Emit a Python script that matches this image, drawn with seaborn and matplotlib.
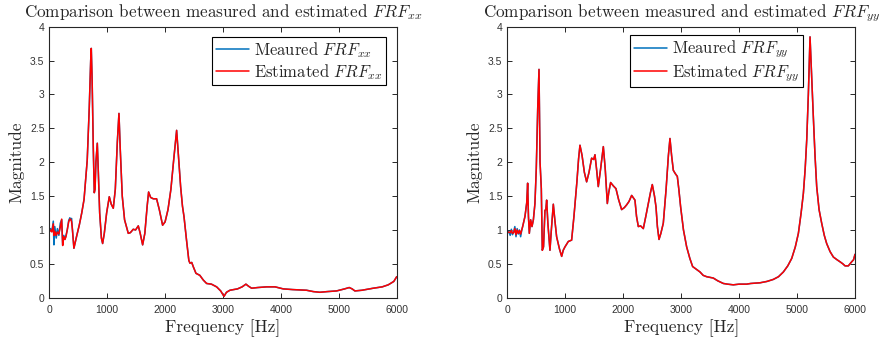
import numpy as np
import pandas as pd
import matplotlib
matplotlib.use("Agg")
import matplotlib.pyplot as plt
import seaborn as sns

# ---------------- data ----------------
# FRF_xx : low-frequency noisy part (measured and estimated differ)
xx_freq_low = [0, 20, 45, 69, 80, 95, 120, 140, 165, 190, 214, 231, 250, 270, 288, 310, 335, 355, 369, 385, 400]
xx_meas_low = [0.97, 1.02, 0.98, 1.13, 0.78, 1.05, 0.88, 1.02, 0.92, 1.10, 1.15, 0.78, 0.92, 0.86, 0.92, 1.00, 1.14, 1.18, 1.15, 1.17, 1.00]
xx_est_low = [0.97, 1.00, 0.97, 1.09, 0.92, 0.98, 0.92, 0.97, 0.94, 1.04, 1.16, 0.77, 0.90, 0.86, 0.90, 1.00, 1.12, 1.16, 1.16, 1.12, 1.00]
# FRF_xx : common part
xx_freq_high = [425, 470, 520, 560, 600, 655, 690, 715, 725, 740, 760, 777, 790, 805, 829, 845, 870, 900, 921, 950,
                990, 1036, 1070, 1105, 1140, 1175, 1203, 1225, 1260, 1300, 1364, 1400, 1450, 1490, 1537, 1570, 1612,
                1650, 1690, 1715, 1750, 1796, 1853, 1900, 1957, 2000, 2050, 2100, 2150, 2199, 2230, 2268, 2300, 2326,
                2370, 2410, 2429, 2460, 2490, 2533, 2600, 2660, 2717, 2800, 2890, 2960, 3017, 3060, 3120, 3250, 3330,
                3396, 3440, 3494, 3600, 3753, 3900, 4040, 4200, 4443, 4560, 4673, 4800, 4962, 5100, 5180, 5230, 5278,
                5400, 5595, 5750, 5854, 5950, 6000]
xx_mag_high = [0.73, 0.90, 1.08, 1.25, 1.45, 2.03, 2.80, 3.50, 3.68, 3.20, 2.20, 1.55, 1.60, 2.00, 2.28, 1.90, 1.25,
               0.88, 0.80, 0.95, 1.25, 1.49, 1.38, 1.32, 1.60, 2.30, 2.72, 2.20, 1.50, 1.15, 0.95, 0.96, 1.01, 1.00,
               1.06, 0.95, 0.78, 0.95, 1.35, 1.56, 1.48, 1.46, 1.46, 1.30, 1.07, 1.12, 1.30, 1.60, 2.05, 2.47, 2.10,
               1.64, 1.35, 1.20, 0.85, 0.55, 0.51, 0.52, 0.45, 0.36, 0.33, 0.26, 0.21, 0.20, 0.16, 0.10, 0.02, 0.08,
               0.11, 0.13, 0.16, 0.20, 0.17, 0.14, 0.15, 0.16, 0.16, 0.13, 0.12, 0.11, 0.09, 0.08, 0.09, 0.10, 0.13,
               0.15, 0.13, 0.10, 0.11, 0.14, 0.16, 0.19, 0.24, 0.31]

# FRF_yy : low-frequency noisy part
yy_freq_low = [0, 25, 50, 70, 90, 110, 130, 150, 170, 190, 210, 230, 250, 265]
yy_meas_low = [0.95, 0.98, 0.92, 1.01, 0.93, 0.97, 1.05, 0.90, 1.02, 0.94, 1.00, 0.90, 1.00, 1.05]
yy_est_low = [0.96, 0.97, 0.96, 0.99, 0.95, 0.96, 1.02, 0.93, 1.00, 0.95, 0.99, 0.94, 1.00, 1.05]
# FRF_yy : common part
yy_freq_high = [305, 335, 351, 365, 380, 403, 426, 450, 477, 500, 525, 547, 565, 587, 604, 625, 650, 665, 679, 700,
                736, 760, 794, 820, 851, 900, 938, 965, 995, 1053, 1110, 1150, 1200, 1230, 1254, 1290, 1330, 1369,
                1410, 1455, 1490, 1513, 1540, 1570, 1610, 1657, 1690, 1726, 1750, 1783, 1830, 1875, 1920, 1973, 2020,
                2059, 2100, 2146, 2203, 2230, 2261, 2300, 2347, 2390, 2433, 2470, 2502, 2540, 2566, 2590, 2618, 2650,
                2692, 2740, 2780, 2807, 2835, 2865, 2900, 2934, 2960, 2991, 3040, 3095, 3150, 3198, 3260, 3325, 3380,
                3440, 3500, 3555, 3630, 3728, 3800, 3900, 4000, 4130, 4200, 4361, 4480, 4591, 4680, 4764, 4840, 4908,
                4970, 5023, 5070, 5109, 5140, 5167, 5195, 5224, 5250, 5281, 5310, 5339, 5380, 5425, 5470, 5511, 5570,
                5627, 5690, 5742, 5790, 5828, 5885, 5943, 5975, 6000]
yy_mag_high = [1.20, 1.40, 1.69, 1.20, 0.95, 1.15, 1.05, 1.15, 1.39, 1.90, 2.80, 3.37, 2.00, 1.61, 0.70, 0.75, 1.29,
               1.30, 1.44, 1.10, 0.70, 1.00, 1.38, 1.15, 0.90, 0.72, 0.61, 0.70, 0.75, 0.83, 0.85, 1.20, 1.70, 2.05,
               2.25, 2.10, 1.85, 1.71, 1.85, 2.06, 2.04, 2.11, 1.90, 1.64, 1.90, 2.23, 1.90, 1.39, 1.55, 1.70, 1.65,
               1.61, 1.45, 1.30, 1.33, 1.37, 1.42, 1.51, 1.44, 1.20, 1.05, 1.06, 1.02, 1.20, 1.39, 1.55, 1.67, 1.50,
               1.34, 1.05, 0.86, 0.95, 1.10, 1.60, 2.10, 2.35, 2.10, 1.88, 1.83, 1.79, 1.60, 1.34, 1.00, 0.75, 0.58,
               0.46, 0.42, 0.38, 0.33, 0.31, 0.30, 0.29, 0.25, 0.21, 0.20, 0.19, 0.20, 0.20, 0.21, 0.22, 0.24, 0.27,
               0.31, 0.38, 0.47, 0.58, 0.75, 0.95, 1.25, 1.54, 1.90, 2.33, 3.00, 3.85, 3.30, 2.67, 2.10, 1.64, 1.30,
               1.10, 0.92, 0.80, 0.68, 0.60, 0.56, 0.53, 0.50, 0.47, 0.47, 0.53, 0.56, 0.64]

tick_vals_x = [0, 1000, 2000, 3000, 4000, 5000, 6000]
tick_vals_y = [0, 0.5, 1, 1.5, 2, 2.5, 3, 3.5, 4]
tick_labels_y = ["0", "0.5", "1", "1.5", "2", "2.5", "3", "3.5", "4"]

# ---------------- style ----------------
sns.set_style("ticks")
plt.rcParams["font.family"] = ["serif"]
plt.rcParams["font.serif"] = ["cmr10", "DejaVu Serif"]
plt.rcParams["mathtext.fontset"] = "cm"
plt.rcParams["axes.formatter.use_mathtext"] = True
plt.rcParams["axes.unicode_minus"] = False

BLUE = "#0072BD"
RED = "#FF0000"
SPINE = "#262626"
TICKTXT = "#333333"


def build_frame(f_low, m_low, e_low, f_high, mag_high, sub):
    freq = list(f_low) + list(f_high)
    meas = list(m_low) + list(mag_high)
    est = list(e_low) + list(mag_high)
    df_m = pd.DataFrame({"freq": freq, "mag": meas,
                         "series": f"Meaured $FRF_{{{sub}}}$", "order": range(len(freq))})
    df_e = pd.DataFrame({"freq": freq, "mag": est,
                         "series": f"Estimated $FRF_{{{sub}}}$", "order": range(len(freq))})
    return pd.concat([df_m, df_e], ignore_index=True)


df_xx = build_frame(xx_freq_low, xx_meas_low, xx_est_low, xx_freq_high, xx_mag_high, "xx")
df_yy = build_frame(yy_freq_low, yy_meas_low, yy_est_low, yy_freq_high, yy_mag_high, "yy")

fig = plt.figure(figsize=(8.81, 3.40), dpi=100)
ax1 = fig.add_axes([49.3 / 881, 1 - 297.7 / 340, 347.4 / 881, 271.0 / 340])
ax2 = fig.add_axes([507.3 / 881, 1 - 297.7 / 340, 347.7 / 881, 271.0 / 340])

panels = [
    (ax1, df_xx, "xx", (0.969, 0.962)),
    (ax2, df_yy, "yy", (0.850, 0.969)),
]

for ax, df, sub, anchor in panels:
    hue_order = [f"Meaured $FRF_{{{sub}}}$", f"Estimated $FRF_{{{sub}}}$"]
    sns.lineplot(data=df, x="freq", y="mag", hue="series", hue_order=hue_order,
                 palette=[BLUE, RED], sort=False, estimator=None, ax=ax, linewidth=1.1)
    ax.set_xlim(0, 6000)
    ax.set_ylim(0, 4)
    ax.set_xticks(tick_vals_x)
    ax.set_xticklabels([str(v) for v in tick_vals_x])
    ax.set_yticks(tick_vals_y)
    ax.set_yticklabels(tick_labels_y)
    for lab in ax.get_xticklabels() + ax.get_yticklabels():
        lab.set_fontfamily("Liberation Sans")
        lab.set_fontsize(7.5)
        lab.set_color(TICKTXT)
    ax.tick_params(direction="in", length=3.5, width=0.7, top=True, right=True,
                   color=SPINE)
    ax.tick_params(axis="x", pad=5)
    ax.tick_params(axis="y", pad=3.5)
    for sp in ax.spines.values():
        sp.set_visible(True)
        sp.set_color(SPINE)
        sp.set_linewidth(0.8)
    ax.set_xlabel("Frequency [Hz]", fontsize=12.5, labelpad=3)
    ax.set_ylabel("Magnitude", fontsize=12.5, labelpad=4)
    ax.set_title(f"Comparison between measured and estimated $FRF_{{{sub}}}$", fontsize=12.3, pad=7)
    leg = ax.legend(loc="upper right", bbox_to_anchor=anchor, borderaxespad=0,
                    fontsize=12, frameon=True, fancybox=False, handlelength=2.0,
                    borderpad=0.2, labelspacing=0.1, handletextpad=0.3)
    leg.get_frame().set_edgecolor("black")
    leg.get_frame().set_linewidth(0.8)
    leg.get_frame().set_alpha(1)
    for line in leg.get_lines():
        line.set_linewidth(1.1)

fig.savefig("out.png", dpi=100)
